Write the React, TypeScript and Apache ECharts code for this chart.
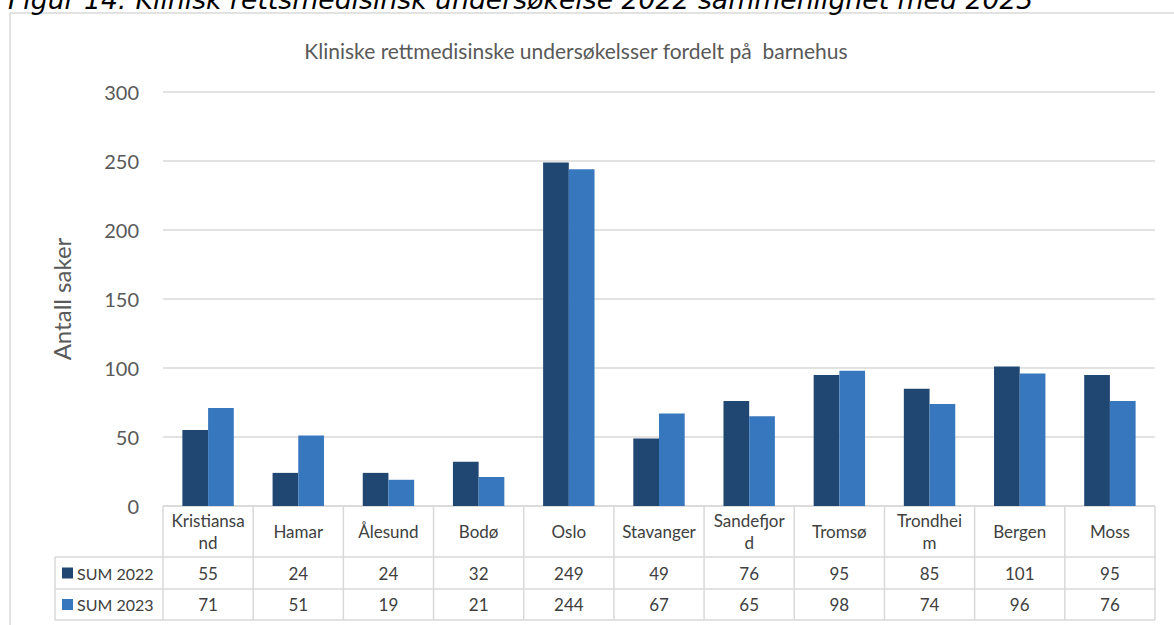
import React, { useEffect, useRef } from "react";
import * as echarts from "echarts";

const caption = "Figur 14: Klinisk rettsmedisinsk undersøkelse 2022 sammenlignet med 2023";
const chartTitle = "Kliniske rettmedisinske undersøkelsser fordelt på  barnehus";
const yAxisName = "Antall saker";
const categories = ["Kristiansand", "Hamar", "Ålesund", "Bodø", "Oslo", "Stavanger", "Sandefjord", "Tromsø", "Trondheim", "Bergen", "Moss"];
const categoryLabels = ["Kristiansa\nnd", "Hamar", "Ålesund", "Bodø", "Oslo", "Stavanger", "Sandefjor\nd", "Tromsø", "Trondhei\nm", "Bergen", "Moss"];
const seriesNames = ["SUM 2022", "SUM 2023"];
const sum2022 = [55, 24, 24, 32, 249, 49, 76, 95, 85, 101, 95];
const sum2023 = [71, 51, 19, 21, 244, 67, 65, 98, 74, 96, 76];
const yMin = 0;
const yMax = 300;
const yInterval = 50;

const COLORS = ["#204672", "#3777BE"];
const FONT = "Lato, 'Liberation Sans', sans-serif";
const W = 1174;
const H = 625;
const GRID_L = 163;
const GRID_R = 1155;
const GRID_T = 92;
const GRID_B = 506;
const ROW1 = 557;
const ROW2 = 589;
const ROW3 = 620;
const LEGEND_L = 55;
const LINE = "#D9D9D9";
const TEXT = "#404040";

function buildTable() {
  const els: any[] = [];
  const n = categories.length;
  const cw = (GRID_R - GRID_L) / n;
  const line = (x1: number, y1: number, x2: number, y2: number) => ({
    type: "line",
    silent: true,
    shape: { x1, y1, x2, y2 },
    style: { stroke: LINE, lineWidth: 1.5 },
  });
  els.push(line(GRID_L, GRID_B, GRID_R, GRID_B));
  els.push(line(LEGEND_L, ROW1, GRID_R, ROW1));
  els.push(line(LEGEND_L, ROW2, GRID_R, ROW2));
  els.push(line(LEGEND_L, ROW3, GRID_R, ROW3));
  els.push(line(LEGEND_L, ROW1, LEGEND_L, ROW3));
  for (let i = 0; i <= n; i++) {
    const x = GRID_L + i * cw;
    els.push(line(x, GRID_B, x, ROW3));
  }
  const rows = [sum2022, sum2023];
  const rowMid = [(ROW1 + ROW2) / 2, (ROW2 + ROW3) / 2];
  for (let i = 0; i < n; i++) {
    const cx = GRID_L + (i + 0.5) * cw;
    els.push({
      type: "text",
      silent: true,
      x: cx,
      y: (GRID_B + ROW1) / 2,
      style: {
        text: categoryLabels[i],
        font: `17px ${FONT}`,
        fill: TEXT,
        align: "center",
        verticalAlign: "middle",
        lineHeight: 22,
      },
    });
    rows.forEach((r, k) => {
      els.push({
        type: "text",
        silent: true,
        x: cx,
        y: rowMid[k],
        style: {
          text: String(r[i]),
          font: `17px ${FONT}`,
          fill: TEXT,
          align: "center",
          verticalAlign: "middle",
        },
      });
    });
  }
  seriesNames.forEach((name, k) => {
    els.push({
      type: "rect",
      silent: true,
      shape: { x: 62, y: rowMid[k] - 5.5, width: 11, height: 11 },
      style: { fill: COLORS[k] },
    });
    els.push({
      type: "text",
      silent: true,
      x: 77,
      y: rowMid[k],
      style: {
        text: name,
        font: `16px ${FONT}`,
        fill: TEXT,
        align: "left",
        verticalAlign: "middle",
      },
    });
  });
  return els;
}

export default function App() {
  const ref = useRef<HTMLDivElement>(null);
  useEffect(() => {
    document.body.style.margin = "0";
    if (!ref.current) return;
    const chart = echarts.init(ref.current, undefined, { renderer: "svg" });
    chart.setOption({
      animation: false,
      backgroundColor: "#ffffff",
      grid: {
        left: GRID_L,
        right: W - GRID_R,
        top: GRID_T,
        bottom: H - GRID_B,
        containLabel: false,
        outerBoundsMode: "none",
      },
      xAxis: {
        type: "category",
        data: categories,
        axisLine: { show: false },
        axisTick: { show: false },
        axisLabel: { show: false },
        splitLine: { show: false },
      },
      yAxis: {
        type: "value",
        min: yMin,
        max: yMax,
        interval: yInterval,
        name: yAxisName,
        nameLocation: "middle",
        nameRotate: 90,
        nameGap: 90,
        nameTextStyle: { fontFamily: FONT, fontSize: 24, color: "#595959" },
        axisLine: { show: false },
        axisTick: { show: false },
        axisLabel: { fontFamily: FONT, fontSize: 20, color: "#595959", margin: 24 },
        splitLine: { lineStyle: { color: LINE, width: 1.5 } },
      },
      series: [
        {
          name: seriesNames[0],
          type: "bar",
          data: sum2022,
          barGap: "0%",
          barCategoryGap: "43%",
          itemStyle: { color: COLORS[0] },
        },
        {
          name: seriesNames[1],
          type: "bar",
          data: sum2023,
          barGap: "0%",
          barCategoryGap: "43%",
          itemStyle: { color: COLORS[1] },
        },
      ],
      graphic: [
        {
          type: "line",
          silent: true,
          shape: { x1: 10, y1: 13, x2: W, y2: 13 },
          style: { stroke: LINE, lineWidth: 1.5 },
        },
        {
          type: "line",
          silent: true,
          shape: { x1: 10, y1: 13, x2: 10, y2: H },
          style: { stroke: LINE, lineWidth: 1.5 },
        },
        {
          type: "text",
          silent: true,
          x: 8,
          y: -1,
          style: {
            text: caption,
            font: `italic 26.7px 'DejaVu Sans', Verdana, sans-serif`,
            fill: "#000000",
            align: "left",
            verticalAlign: "middle",
          },
        },
        {
          type: "text",
          silent: true,
          x: 576,
          y: 50,
          style: {
            text: chartTitle,
            font: `21px ${FONT}`,
            fill: "#595959",
            align: "center",
            verticalAlign: "middle",
          },
        },
        ...buildTable(),
      ],
    });
    return () => chart.dispose();
  }, []);
  return <div ref={ref} style={{ width: W, height: H }} />;
}
